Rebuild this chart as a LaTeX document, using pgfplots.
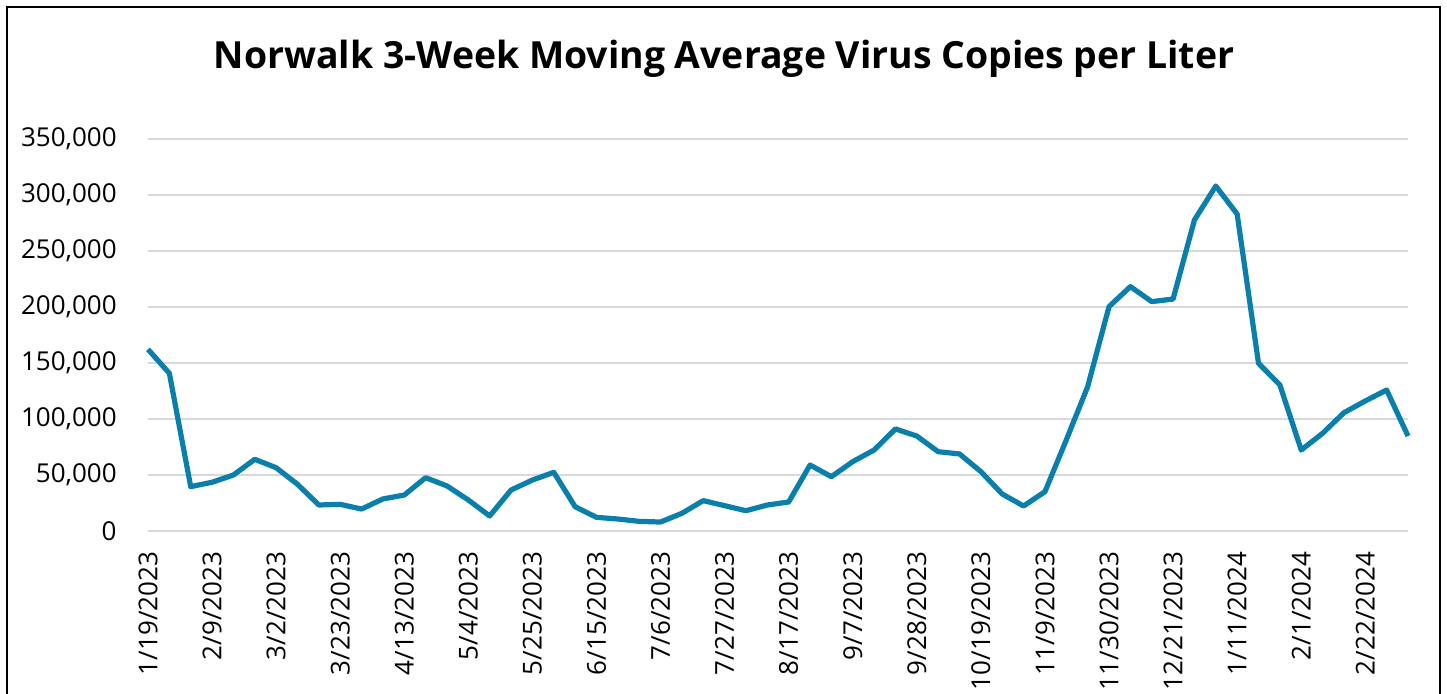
\documentclass[border=0pt]{standalone}
\usepackage{fontspec}
\setmainfont{Open Sans}
\usepackage{pgfplots}
\pgfplotsset{compat=1.18}
\definecolor{lineblue}{RGB}{11,127,172}
\definecolor{gridgray}{RGB}{217,217,217}
\begin{document}
\begin{tikzpicture}
\path[use as bounding box] (0,0) rectangle (723.5pt,347pt);
\clip (0,0) rectangle (723.5pt,347pt);
\draw[black, line width=1pt] (3.25pt,-10pt) -- (3.25pt,343.25pt) -- (720pt,343.25pt) -- (720pt,-10pt);
\node[anchor=base, font=\fontsize{18.7}{22}\selectfont\bfseries] at (362pt,312.85pt) {Norwalk 3-Week Moving Average Virus Copies per Liter};
\begin{axis}[
  at={(74pt,81.5pt)}, anchor=south west,
  scale only axis, width=630pt, height=196pt,
  xmin=0, xmax=59, ymin=0, ymax=350000,
  axis line style={draw=none},
  major tick length=0pt,
  ymajorgrids, grid style={gridgray, line width=1pt},
  ytick={0,50000,...,350000},
  scaled y ticks=false,
  /pgf/number format/fixed,
  /pgf/number format/1000 sep={,},
  /pgf/number format/assume math mode=true,
  yticklabel style={inner sep=0pt, xshift=-15.5pt, font=\fontsize{13}{15}\selectfont},
  xtick={0,3,...,57},
  xticklabels={1/19/2023,2/9/2023,3/2/2023,3/23/2023,4/13/2023,5/4/2023,5/25/2023,6/15/2023,7/6/2023,7/27/2023,8/17/2023,9/7/2023,9/28/2023,10/19/2023,11/9/2023,11/30/2023,12/21/2023,1/11/2024,2/1/2024,2/22/2024},
  xticklabel style={yshift=-10.3pt, rotate=90, anchor=east, inner sep=0pt, font=\fontsize{13}{15}\selectfont},
  clip=false,
]
\addplot[lineblue, line width=2.6pt, line join=round, no markers] coordinates {
(0,162200) (1,140800) (2,39600) (3,43500) (4,50000) (5,64000) (6,56500) (7,41700) (8,23200) (9,23800)
(10,19600) (11,28600) (12,32100) (13,47600) (14,40200) (15,27700) (16,13400) (17,36600) (18,45500) (19,52400)
(20,21700) (21,12200) (22,10700) (23,8600) (24,8000) (25,15800) (26,27100) (27,22600) (28,18100) (29,23200)
(30,25900) (31,58900) (32,48500) (33,61900) (34,72300) (35,91100) (36,84800) (37,70800) (38,68800) (39,53000)
(40,33000) (41,22300) (42,35100) (43,81300) (44,128900) (45,200300) (46,218200) (47,204800) (48,207100) (49,277700)
(50,308000) (51,283000) (52,149700) (53,130400) (54,72300) (55,87200) (56,105600) (57,116100) (58,125900) (59,84800)
};
\end{axis}
\end{tikzpicture}
\end{document}
